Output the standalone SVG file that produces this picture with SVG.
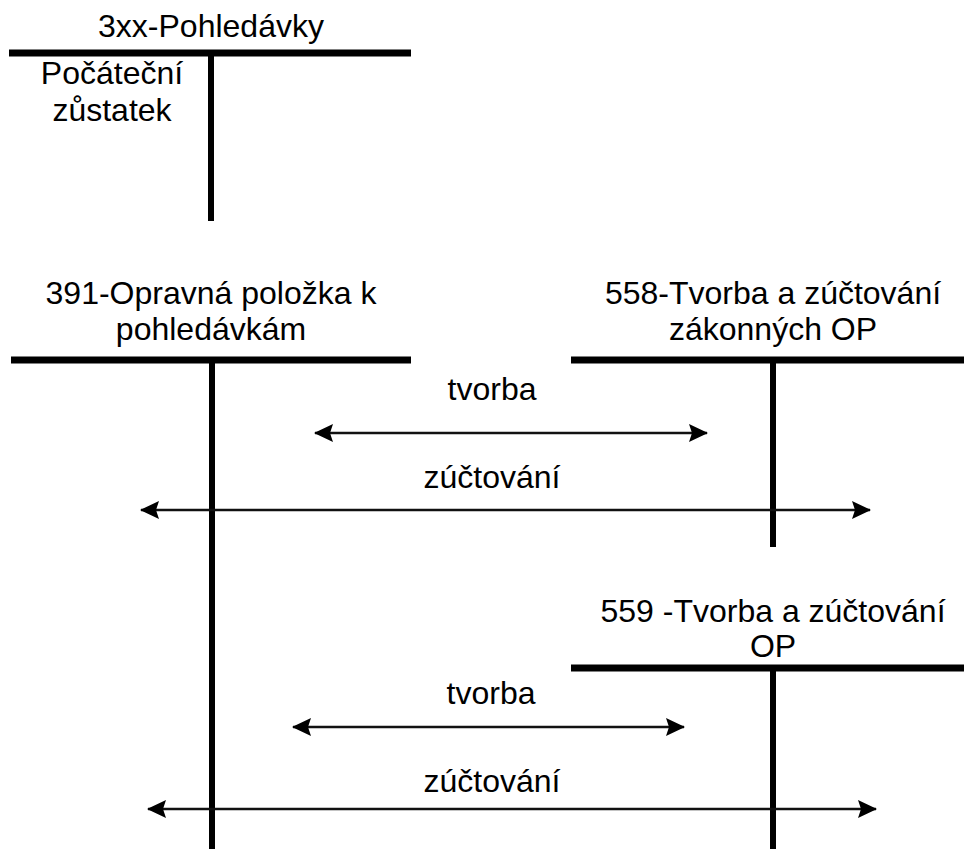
<svg xmlns="http://www.w3.org/2000/svg" width="964" height="849" viewBox="0 0 964 849">
<style>
text{font-family:"Liberation Sans",Arial,sans-serif;font-size:32px;fill:#000;text-anchor:middle}
.bar{stroke:#000;stroke-width:7;fill:none}
.stem{stroke:#000;stroke-width:6;fill:none}
.arr{stroke:#111;stroke-width:2.5;fill:none;marker-start:url(#ah);marker-end:url(#ah)}
</style>
<defs>
<marker id="ah" viewBox="0 0 19 18" refX="18" refY="9" markerWidth="19" markerHeight="18" markerUnits="userSpaceOnUse" orient="auto-start-reverse">
<path d="M0,0 L19,9 L0,18 L3,9 Z" fill="#000"/>
</marker>
</defs>
<rect width="964" height="849" fill="#fff"/>
<g id="account-3xx">
<text x="211" y="37">3xx-Pohledávky</text>
<line class="bar" x1="9" y1="53" x2="411" y2="53"/>
<line class="stem" x1="211" y1="53" x2="211" y2="221"/>
<text x="112" y="84">Počáteční</text>
<text x="112" y="121">zůstatek</text>
</g>
<g id="account-391">
<text x="211" y="304">391-Opravná položka k</text>
<text x="211" y="340">pohledávkám</text>
<line class="bar" x1="11" y1="360" x2="411" y2="360"/>
<line class="stem" x1="212" y1="360" x2="212" y2="849"/>
</g>
<g id="account-558">
<text x="773" y="304">558-Tvorba a zúčtování</text>
<text x="773" y="340">zákonných OP</text>
<line class="bar" x1="571" y1="360" x2="964" y2="360"/>
<line class="stem" x1="773" y1="360" x2="773" y2="547"/>
</g>
<g id="account-559">
<text x="773" y="622">559 -Tvorba a zúčtování</text>
<text x="773" y="657">OP</text>
<line class="bar" x1="571" y1="668" x2="964" y2="668"/>
<line class="stem" x1="773" y1="668" x2="773" y2="849"/>
</g>
<g id="connectors">
<text x="492" y="400">tvorba</text>
<line class="arr" x1="315" y1="433" x2="707" y2="433"/>
<text x="492" y="488">zúčtování</text>
<line class="arr" x1="141" y1="510" x2="870" y2="510"/>
<text x="491" y="704">tvorba</text>
<line class="arr" x1="293" y1="727" x2="684" y2="727"/>
<text x="492" y="792">zúčtování</text>
<line class="arr" x1="148" y1="809" x2="876" y2="809"/>
</g>
</svg>
